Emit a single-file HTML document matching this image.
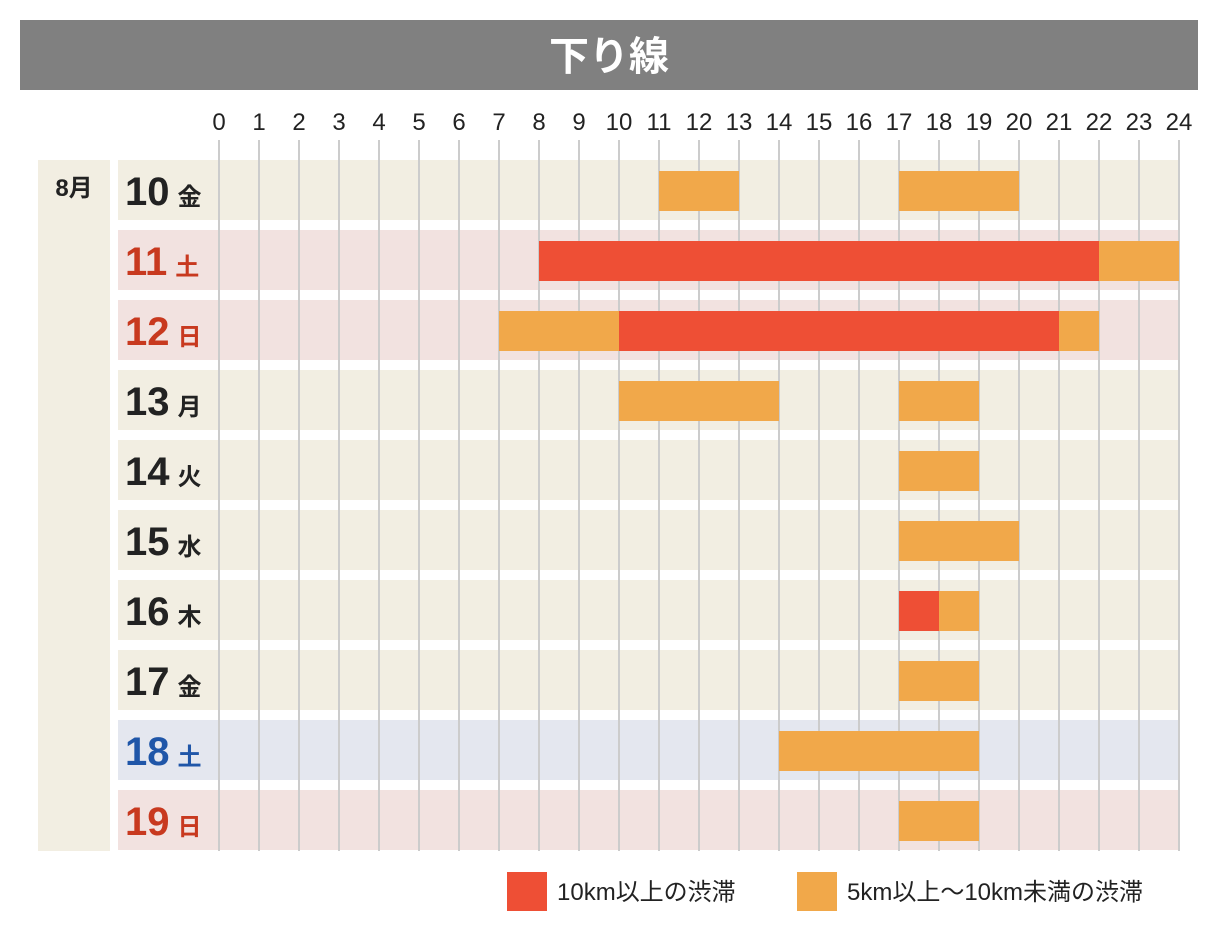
<!DOCTYPE html>
<html><head><meta charset="utf-8"><style>
body{margin:0;background:#fff;font-family:"Liberation Sans","Noto Sans CJK JP",sans-serif}
svg text{font-family:"Liberation Sans","Noto Sans CJK JP",sans-serif}
</style></head><body>
<svg width="1218" height="940" xmlns="http://www.w3.org/2000/svg" id="chart">
<rect x="20" y="20" width="1178" height="70" fill="#808080"/>
<text x="609" y="70" text-anchor="middle" font-size="40" font-weight="bold" fill="#fff">下り線</text>
<rect x="38" y="160" width="72" height="691" fill="#f2eee2"/>
<text x="74" y="196" text-anchor="middle" font-size="24" font-weight="bold" fill="#222">8月</text>
<g id="rows"></g><g id="grid"></g><g id="bars"></g><g id="ticks"></g>
<rect x="507" y="872" width="40" height="39" fill="#ee4f35"/>
<text x="557" y="900" font-size="24" fill="#222">10km以上の渋滞</text>
<rect x="797" y="872" width="40" height="39" fill="#f1a84a"/>
<text x="847" y="900" font-size="24" fill="#222">5km以上〜10km未満の渋滞</text>
</svg>
<script>
const days=["10","11","12","13","14","15","16","17","18","19"];
const weekdays=["金","土","日","月","火","水","木","金","土","日"];
const dayTypes=["w","h","h","w","w","w","w","w","s","h"];
// segments: [dayIndex, start, end, level] level 1=heavy(red), 0=moderate(orange)
const segDay=[0,0,1,1,2,2,2,3,3,4,5,6,6,7,8,9];
const segStart=[11,17,8,22,7,10,21,10,17,17,17,17,18,17,14,17];
const segEnd=[13,20,22,24,10,21,22,14,19,19,20,18,19,19,19,19];
const segLevel=[0,0,1,0,0,1,0,0,0,0,0,1,0,0,0,0];
const hourTicks=[0,1,2,3,4,5,6,7,8,9,10,11,12,13,14,15,16,17,18,19,20,21,22,23,24];
const NS="http://www.w3.org/2000/svg";
const x=h=>219+h*40, y=i=>160+i*70;
const bg={w:"#f2eee2",h:"#f2e2e0",s:"#e4e7ef"}, fg={w:"#222",h:"#c8391f",s:"#1f56a8"};
function mk(p,t,a){const e=document.createElementNS(NS,t);for(const k in a)e.setAttribute(k,a[k]);document.getElementById(p).appendChild(e);return e;}
days.forEach((d,i)=>{
 const r=mk("rows","rect",{x:118,y:y(i),width:1061,height:60,fill:bg[dayTypes[i]]});
 
 
 const t=mk("rows","text",{x:125,y:y(i)+45,"font-size":40,"font-weight":"bold",fill:fg[dayTypes[i]]});
 
 
 t.innerHTML=d+'<tspan font-size="24" dx="8">'+weekdays[i]+'</tspan>';
});
hourTicks.forEach(h=>{
 const l=mk("grid","line",{x1:x(h),x2:x(h),y1:140,y2:851,stroke:"#cccccc","stroke-width":2});
 
 
 const t=mk("ticks","text",{x:x(h),y:130,"text-anchor":"middle","font-size":24,fill:"#222"});
 
 
 t.textContent=h;
});
segDay.forEach((d,k)=>{
 const b=mk("bars","rect",{x:x(segStart[k]),y:y(d)+11,width:x(segEnd[k])-x(segStart[k]),height:40,fill:segLevel[k]?"#ee4f35":"#f1a84a"});
 
 
});
</script>
</body></html>
